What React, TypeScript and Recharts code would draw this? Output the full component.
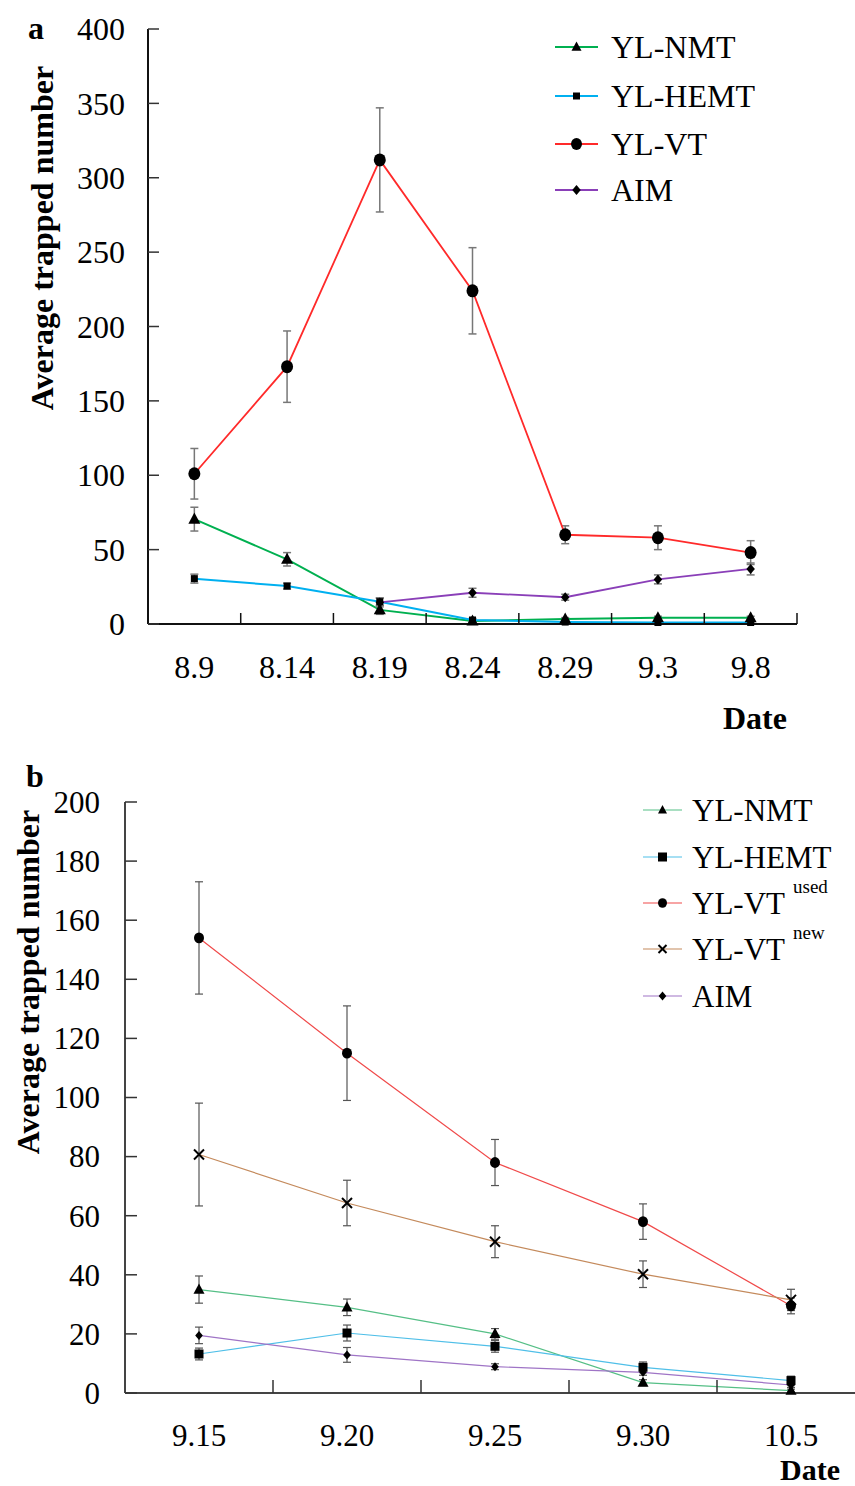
import { LineChart, Line, XAxis, YAxis, ErrorBar } from "recharts";

const FONT = '"Liberation Serif", "Times New Roman", serif';

// panel a
const datesA = ["8.9", "8.14", "8.19", "8.24", "8.29", "9.3", "9.8"];
const nmtA = [70.5, 43.5, 9.5, 2, 3.3, 4.2, 4.2];
const nmtErrA = [8, 4.5, 3, 1, 1, 1, 1];
const hemtA = [30.5, 25.5, 15, 2.7, 1.3, 1, 1];
const hemtErrA = [3, 2, 2.5, 1, 0.8, 0.5, 0.5];
const vtA = [101, 173, 312, 224, 60, 58, 48];
const vtErrA = [17, 24, 35, 29, 6, 8, 8];
const aimA = [null, null, 14.5, 21, 18, 30, 37];
const aimErrA = [null, null, 3, 3, 2, 3, 4];
const ticksA = [0, 50, 100, 150, 200, 250, 300, 350, 400];

// panel b
const datesB = ["9.15", "9.20", "9.25", "9.30", "10.5"];
const nmtB = [35, 29, 20, 3.5, 0.8];
const nmtErrB = [4.6, 2.8, 1.8, 1, 0.5];
const hemtB = [13.2, 20.3, 15.8, 8.7, 4.2];
const hemtErrB = [2, 2.7, 2, 1.8, 1.5];
const vtUsedB = [154, 115, 78, 58, 29.5];
const vtUsedErrB = [19, 16, 7.8, 6, 2.7];
const vtNewB = [80.7, 64.3, 51.2, 40.2, 31.5];
const vtNewErrB = [17.4, 7.7, 5.4, 4.5, 3.6];
const aimB = [19.5, 12.9, 8.9, 7, 2.7];
const aimErrB = [2.8, 2.5, 1, 1, 0.8];
const ticksB = [0, 20, 40, 60, 80, 100, 120, 140, 160, 180, 200];

const dataA = datesA.map((d, i) => ({
  date: d,
  nmt: nmtA[i], nmtErr: nmtErrA[i],
  hemt: hemtA[i], hemtErr: hemtErrA[i],
  vt: vtA[i], vtErr: vtErrA[i],
  aim: aimA[i], aimErr: aimErrA[i],
}));

const dataB = datesB.map((d, i) => ({
  date: d,
  nmt: nmtB[i], nmtErr: nmtErrB[i],
  hemt: hemtB[i], hemtErr: hemtErrB[i],
  vtUsed: vtUsedB[i], vtUsedErr: vtUsedErrB[i],
  vtNew: vtNewB[i], vtNewErr: vtNewErrB[i],
  aim: aimB[i], aimErr: aimErrB[i],
}));

type Shape = "triangle" | "square" | "circle" | "diamond" | "cross";

function Marker({ shape, x, y, s }: { shape: Shape; x: number; y: number; s: number }) {
  if (shape === "circle") return <ellipse cx={x} cy={y} rx={s} ry={s * 1.08} fill="#000" />;
  if (shape === "square") return <rect x={x - s} y={y - s} width={2 * s} height={2 * s} fill="#000" />;
  if (shape === "triangle")
    return <polygon points={`${x},${y - s * 1.1} ${x - s},${y + s * 0.75} ${x + s},${y + s * 0.75}`} fill="#000" />;
  if (shape === "diamond")
    return <polygon points={`${x},${y - s} ${x + s * 0.85},${y} ${x},${y + s} ${x - s * 0.85},${y}`} fill="#000" />;
  return (
    <g stroke="#000" strokeWidth={2}>
      <line x1={x - s} y1={y - s} x2={x + s} y2={y + s} />
      <line x1={x - s} y1={y + s} x2={x + s} y2={y - s} />
    </g>
  );
}

const makeDot = (shape: Shape, s: number) => (props: any) => {
  const { cx, cy, index, value } = props;
  if (value == null || cx == null || cy == null || isNaN(cy)) return <g key={`e-${index}`} />;
  return (
    <g key={`d-${index}`}>
      <Marker shape={shape} x={cx} y={cy} s={s} />
    </g>
  );
};

const makeYTick = (len: number, gap: number, fs: number, color: string) => (props: any) => {
  const { x, y, payload } = props;
  return (
    <g>
      <line x1={x} x2={x + len} y1={y} y2={y} stroke={color} strokeWidth={1.5} />
      <text x={x - gap} y={y} dy="0.35em" textAnchor="end" fontSize={fs} fontFamily={FONT} fill="#000">
        {payload.value}
      </text>
    </g>
  );
};

// ticks sit between categories, like the spreadsheet original
const makeXTick = (band: number, len: number, gap: number, fs: number, color: string) => (props: any) => {
  const { x, y, payload } = props;
  return (
    <g>
      <line x1={x + band / 2} x2={x + band / 2} y1={y} y2={y - len} stroke={color} strokeWidth={1.5} />
      <text x={x} y={y + gap} dy="0.35em" textAnchor="middle" fontSize={fs} fontFamily={FONT} fill="#000">
        {payload.value}
      </text>
    </g>
  );
};

const abs = (left: number, top: number, extra: any = {}) => ({
  position: "absolute" as const,
  left,
  top,
  fontFamily: FONT,
  color: "#000",
  lineHeight: 1,
  whiteSpace: "nowrap" as const,
  ...extra,
});

function VLabel({ cx, cy, text }: { cx: number; cy: number; text: string }) {
  return (
    <div
      style={abs(cx, cy, {
        fontSize: 32,
        fontWeight: "bold",
        transform: "translate(-50%, -50%) rotate(-90deg)",
      })}
    >
      {text}
    </div>
  );
}

type LegendRow = { color: string; shape: Shape; s: number; label: string; sup?: string };

function LegendBlock({ rows, ys, x1, x2, tx, fs, sw }: { rows: LegendRow[]; ys: number[]; x1: number; x2: number; tx: number; fs: number; sw: number }) {
  return (
    <>
      {rows.map((r, i) => (
        <div key={r.label + i}>
          <svg style={{ position: "absolute", left: x1, top: ys[i] - 10 }} width={x2 - x1} height={20}>
            <line x1={0} x2={x2 - x1} y1={10} y2={10} stroke={r.color} strokeWidth={sw} />
            <Marker shape={r.shape} x={(x2 - x1) / 2} y={10} s={r.s} />
          </svg>
          <div style={abs(tx, ys[i], { fontSize: fs, transform: "translateY(-50%)" })}>
            {r.label}
            {r.sup && (
              <span style={{ fontSize: 19, position: "relative", top: -21, marginLeft: 8 }}>{r.sup}</span>
            )}
          </div>
        </div>
      ))}
    </>
  );
}

const cA = { nmt: "#00b050", hemt: "#00b0f0", vt: "#ff2a2a", aim: "#8a3fb8" };
const cB = { nmt: "#55bf86", hemt: "#4fbfe8", vtUsed: "#f04a4a", vtNew: "#c48a5c", aim: "#9f74c6" };

export default function App() {
  const bandA = (797 - 148) / datesA.length;
  const bandB = 148;
  return (
    <div style={{ position: "absolute", left: 0, top: 0, width: 855, height: 1486, overflow: "hidden", background: "#fff" }}>
      {/* panel a */}
      <div style={{ position: "absolute", left: 0, top: 0 }}>
        <LineChart width={855} height={700} data={dataA} margin={{ top: 29, right: 58, left: 88, bottom: 46 }}>
          <XAxis
            dataKey="date"
            height={30}
            interval={0}
            padding={{ left: bandA / 2, right: bandA / 2 }}
            tickSize={0}
            tickMargin={0}
            tickLine={false}
            axisLine={{ stroke: "#111", strokeWidth: 2 }}
            tick={makeXTick(bandA, 11, 43, 32, "#111")}
          />
          <YAxis
            width={60}
            type="number"
            domain={[0, 400]}
            ticks={ticksA}
            interval={0}
            tickSize={0}
            tickMargin={0}
            tickLine={false}
            axisLine={{ stroke: "#111", strokeWidth: 2 }}
            tick={makeYTick(11, 23, 32, "#333")}
          />
          <Line dataKey="nmt" type="linear" stroke={cA.nmt} strokeWidth={2} dot={makeDot("triangle", 6)} activeDot={false} isAnimationActive={false}>
            <ErrorBar dataKey="nmtErr" width={4} stroke="#777" strokeWidth={1.5} direction="y" />
          </Line>
          <Line dataKey="hemt" type="linear" stroke={cA.hemt} strokeWidth={2} dot={makeDot("square", 3.5)} activeDot={false} isAnimationActive={false}>
            <ErrorBar dataKey="hemtErr" width={4} stroke="#777" strokeWidth={1.5} direction="y" />
          </Line>
          <Line dataKey="vt" type="linear" stroke={cA.vt} strokeWidth={1.8} dot={makeDot("circle", 6)} activeDot={false} isAnimationActive={false}>
            <ErrorBar dataKey="vtErr" width={4} stroke="#777" strokeWidth={1.5} direction="y" />
          </Line>
          <Line dataKey="aim" type="linear" stroke={cA.aim} strokeWidth={1.8} dot={makeDot("diamond", 5)} activeDot={false} isAnimationActive={false}>
            <ErrorBar dataKey="aimErr" width={4} stroke="#777" strokeWidth={1.5} direction="y" />
          </Line>
        </LineChart>
      </div>
      <div style={abs(28, 12, { fontSize: 32, fontWeight: "bold" })}>a</div>
      <VLabel cx={42} cy={238} text="Average trapped number" />
      <div style={abs(723, 702, { fontSize: 32, fontWeight: "bold" })}>Date</div>
      <LegendBlock
        rows={[
          { color: cA.nmt, shape: "triangle", s: 5, label: "YL-NMT" },
          { color: cA.hemt, shape: "square", s: 3.5, label: "YL-HEMT" },
          { color: cA.vt, shape: "circle", s: 5.5, label: "YL-VT" },
          { color: cA.aim, shape: "diamond", s: 5, label: "AIM" },
        ]}
        ys={[47, 96, 144, 190]}
        x1={555}
        x2={598}
        tx={611}
        fs={32}
        sw={2}
      />

      {/* panel b */}
      <div style={{ position: "absolute", left: 0, top: 740 }}>
        <LineChart width={870} height={746} data={dataB} margin={{ top: 62, right: 5, left: 65, bottom: 63 }}>
          <XAxis
            dataKey="date"
            height={30}
            interval={0}
            padding={{ left: bandB / 2, right: bandB / 2 }}
            tickSize={0}
            tickMargin={0}
            tickLine={false}
            axisLine={{ stroke: "#444", strokeWidth: 2 }}
            tick={makeXTick(bandB, 13, 42, 31, "#333")}
          />
          <YAxis
            width={60}
            type="number"
            domain={[0, 200]}
            ticks={ticksB}
            interval={0}
            tickSize={0}
            tickMargin={0}
            tickLine={false}
            axisLine={{ stroke: "#444", strokeWidth: 2 }}
            tick={makeYTick(12, 25, 31, "#333")}
          />
          <Line dataKey="nmt" type="linear" stroke={cB.nmt} strokeWidth={1.2} dot={makeDot("triangle", 5.5)} activeDot={false} isAnimationActive={false}>
            <ErrorBar dataKey="nmtErr" width={4} stroke="#555" strokeWidth={1.2} direction="y" />
          </Line>
          <Line dataKey="hemt" type="linear" stroke={cB.hemt} strokeWidth={1.2} dot={makeDot("square", 4.5)} activeDot={false} isAnimationActive={false}>
            <ErrorBar dataKey="hemtErr" width={4} stroke="#555" strokeWidth={1.2} direction="y" />
          </Line>
          <Line dataKey="vtUsed" type="linear" stroke={cB.vtUsed} strokeWidth={1.2} dot={makeDot("circle", 5)} activeDot={false} isAnimationActive={false}>
            <ErrorBar dataKey="vtUsedErr" width={4} stroke="#555" strokeWidth={1.2} direction="y" />
          </Line>
          <Line dataKey="vtNew" type="linear" stroke={cB.vtNew} strokeWidth={1.2} dot={makeDot("cross", 5)} activeDot={false} isAnimationActive={false}>
            <ErrorBar dataKey="vtNewErr" width={4} stroke="#555" strokeWidth={1.2} direction="y" />
          </Line>
          <Line dataKey="aim" type="linear" stroke={cB.aim} strokeWidth={1.2} dot={makeDot("diamond", 4.5)} activeDot={false} isAnimationActive={false}>
            <ErrorBar dataKey="aimErr" width={4} stroke="#555" strokeWidth={1.2} direction="y" />
          </Line>
        </LineChart>
      </div>
      <div style={abs(26, 760, { fontSize: 32, fontWeight: "bold" })}>b</div>
      <VLabel cx={28} cy={982} text="Average trapped number" />
      <div style={abs(780, 1455, { fontSize: 30, fontWeight: "bold" })}>Date</div>
      <LegendBlock
        rows={[
          { color: cB.nmt, shape: "triangle", s: 4.5, label: "YL-NMT" },
          { color: cB.hemt, shape: "square", s: 4.5, label: "YL-HEMT" },
          { color: cB.vtUsed, shape: "circle", s: 4.5, label: "YL-VT", sup: "used" },
          { color: cB.vtNew, shape: "cross", s: 4, label: "YL-VT", sup: "new" },
          { color: cB.aim, shape: "diamond", s: 4.5, label: "AIM" },
        ]}
        ys={[810, 857, 903, 949, 996]}
        x1={643}
        x2={682}
        tx={692}
        fs={31}
        sw={1.2}
      />
    </div>
  );
}
